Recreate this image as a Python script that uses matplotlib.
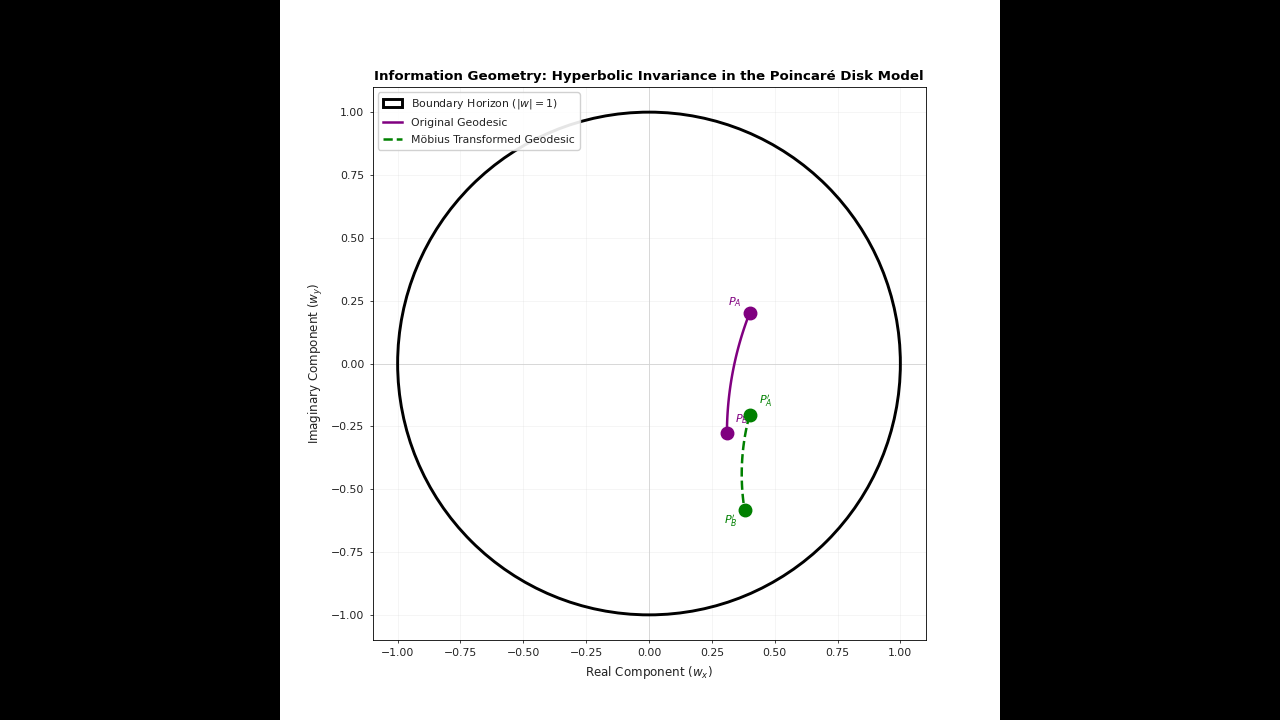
import numpy as np
import matplotlib.pyplot as plt
from matplotlib.patches import Circle, Rectangle

# points (complex plane)
orig_pts = [complex(0.40, 0.20), complex(0.31, -0.275)]
moeb_pts = [complex(0.40, -0.205), complex(0.38, -0.582)]
orig_labels = ["$P_A$", "$P_B$"]
moeb_labels = ["$P_A'$", "$P_B'$"]
ticks = [-1.0, -0.75, -0.5, -0.25, 0.0, 0.25, 0.5, 0.75, 1.0]


def geodesic(z1, z2, n=100):
    # circle orthogonal to unit circle through z1, z2
    # centre c: |c - z|^2 = |c|^2 - 1  ->  2 Re(c conj z) = |z|^2 + 1
    A = np.array([[z1.real, z1.imag], [z2.real, z2.imag]]) * 2
    b = np.array([abs(z1) ** 2 + 1, abs(z2) ** 2 + 1])
    cx, cy = np.linalg.solve(A, b)
    c = complex(cx, cy)
    r = abs(z1 - c)
    t1 = np.angle(z1 - c)
    t2 = np.angle(z2 - c)
    d = (t2 - t1 + np.pi) % (2 * np.pi) - np.pi
    t = t1 + np.linspace(0, 1, n) * d
    return c.real + r * np.cos(t), c.imag + r * np.sin(t)


fig = plt.figure(figsize=(12.8, 7.2), dpi=100, facecolor="black")
fig.patches.append(Rectangle((280 / 1280, 0), 720 / 1280, 1, transform=fig.transFigure,
                             facecolor="white", edgecolor="none", zorder=-5))

ax = fig.add_axes([372 / 1280, 80 / 720, 554 / 1280, 553 / 720])
ax.set_zorder(2)
ax.set_facecolor("white")

boundary = Circle((0, 0), 1, fill=False, edgecolor="black", lw=2.1,
                  label=r"Boundary Horizon ($|w|=1$)", zorder=3)
ax.add_patch(boundary)
ax.axhline(0, color="lightgray", lw=0.6, zorder=1)
ax.axvline(0, color="lightgray", lw=0.6, zorder=1)

gx, gy = geodesic(*orig_pts)
ax.plot(gx, gy, color="purple", lw=1.8, label="Original Geodesic", zorder=4)
mx, my = geodesic(*moeb_pts)
ax.plot(mx, my, color="green", lw=1.8, ls="--", label="Möbius Transformed Geodesic", zorder=4)

ax.plot([p.real for p in orig_pts], [p.imag for p in orig_pts], "o", color="purple", ms=9, zorder=5)
ax.plot([p.real for p in moeb_pts], [p.imag for p in moeb_pts], "o", color="green", ms=9, zorder=7)

offs_o = [(-11, 8), (11, 10)]
for p, lab, off in zip(orig_pts, orig_labels, offs_o):
    ax.annotate(lab, (p.real, p.imag), xytext=off, textcoords="offset points",
                color="purple", fontsize=8, ha="center", va="center", zorder=6)
offs_m = [(12, 10), (-10, -8)]
for p, lab, off in zip(moeb_pts, moeb_labels, offs_m):
    ax.annotate(lab, (p.real, p.imag), xytext=off, textcoords="offset points",
                color="green", fontsize=8, ha="center", va="center", zorder=8)

ax.set_xlim(-1.1, 1.1)
ax.set_ylim(-1.1, 1.1)
ax.set_aspect("equal")
ax.set_xticks(ticks)
ax.set_yticks(ticks)
ax.tick_params(labelsize=7.8, length=2.5, width=0.6, colors="#222222")
ax.grid(True, color="lightgray", alpha=0.3, lw=0.5)
for s in ax.spines.values():
    s.set_linewidth(0.6)

ax.set_xlabel(r"Real Component ($w_x$)", fontsize=8.6, color="#222222")
ax.set_ylabel(r"Imaginary Component ($w_y$)", fontsize=8.6, color="#222222")
ax.set_title("Information Geometry: Hyperbolic Invariance in the Poincaré Disk Model",
             fontsize=9.6, fontweight="bold", pad=5)
leg = ax.legend(loc="upper left", fontsize=7.8, framealpha=0.9, borderpad=0.45,
                handlelength=1.8, labelspacing=0.62)
for t in leg.get_texts():
    t.set_color("#222222")

fig.savefig("out.png", dpi=100, facecolor=fig.get_facecolor())
